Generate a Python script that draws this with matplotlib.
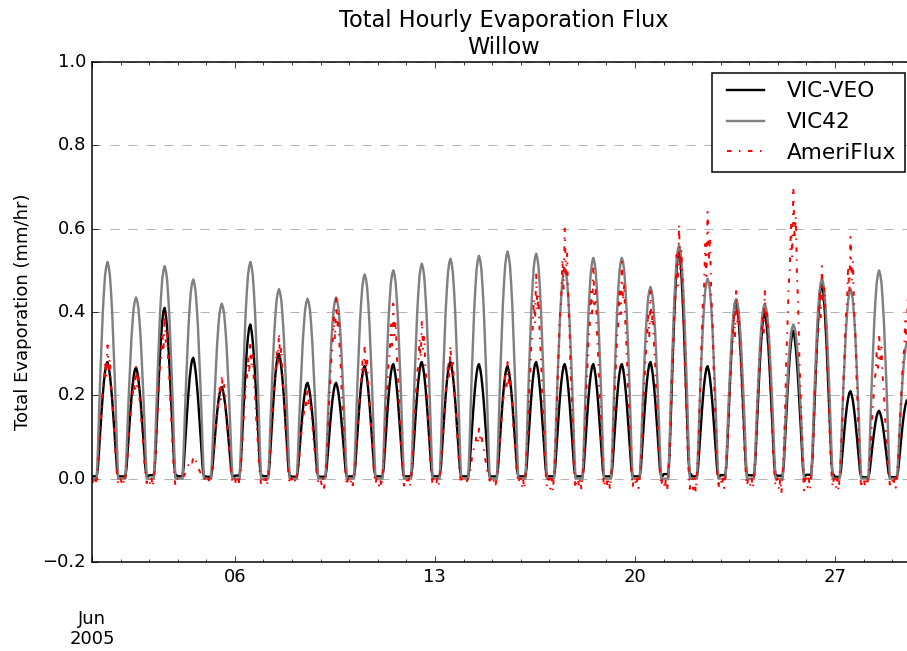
import numpy as np
import pandas as pd
import matplotlib
matplotlib.use('Agg')
import matplotlib.pyplot as plt
import matplotlib.dates as mdates
from matplotlib.ticker import FuncFormatter

# daily peak values, Jun 1 .. Jun 29 2005
veo_peak = [0.28, 0.267, 0.41, 0.29, 0.22, 0.37, 0.30, 0.23, 0.23, 0.27,
            0.275, 0.28, 0.28, 0.275, 0.27, 0.28, 0.275, 0.275, 0.275, 0.28,
            0.55, 0.27, 0.43, 0.40, 0.355, 0.47, 0.21, 0.163, 0.19]
vic42_peak = [0.52, 0.435, 0.51, 0.478, 0.42, 0.52, 0.455, 0.432, 0.435, 0.49,
              0.50, 0.516, 0.528, 0.535, 0.545, 0.54, 0.505, 0.53, 0.53, 0.46,
              0.56, 0.48, 0.43, 0.42, 0.37, 0.48, 0.455, 0.50, 0.33]
flux_peak = [0.32, 0.27, 0.40, 0.05, 0.25, 0.33, 0.35, 0.22, 0.44, 0.32,
             0.42, 0.38, 0.32, 0.12, 0.28, 0.49, 0.60, 0.51, 0.52, 0.45,
             0.61, 0.64, 0.45, 0.45, 0.70, 0.51, 0.58, 0.35, 0.43]

# typical diurnal shape (hour 0..23), relative to the daily peak
vic_shape = [0.0, 0.0, 0.0, 0.0, 0.0, 0.14, 0.32, 0.48, 0.62, 0.76, 0.86, 0.94,
             0.98, 1.0, 0.98, 0.94, 0.86, 0.76, 0.62, 0.48, 0.32, 0.14, 0.0, 0.0]
veo_shape = [0.02, 0.02, 0.02, 0.02, 0.02, 0.10, 0.26, 0.42, 0.57, 0.71, 0.83, 0.92,
             0.98, 1.0, 0.96, 0.89, 0.79, 0.67, 0.53, 0.38, 0.23, 0.08, 0.02, 0.02]
flux_shape = [0.0, -0.04, 0.0, -0.05, 0.02, 0.10, 0.22, 0.40, 0.52, 0.66, 0.72, 0.88,
              0.76, 1.0, 0.82, 0.90, 0.70, 0.60, 0.42, 0.30, 0.14, 0.03, -0.04, 0.0]

times = pd.date_range('2005-06-01 00:00', '2005-06-29 20:00', freq='h')
n = len(times)

def hourly(peaks, shape):
    vals = [p * s for p in peaks for s in shape]
    return np.array(vals[:n])

plt.style.use('classic')
plt.rcParams['figure.facecolor'] = 'white'
plt.rcParams['savefig.facecolor'] = 'white'

fig = plt.figure(figsize=(907 / 108, 651 / 108), dpi=108)
ax = fig.add_axes([92 / 907, 89 / 651, 824 / 907, 500 / 651])

ax.plot(times, hourly(veo_peak, veo_shape), color='k', lw=1.6, label='VIC-VEO')
ax.plot(times, hourly(vic42_peak, vic_shape), color='gray', lw=1.6, label='VIC42')
ax.plot(times, hourly(flux_peak, flux_shape), color='red', lw=1.3, ls='-.', label='AmeriFlux')

ax.set_xlim(times[0], times[-1])
ax.set_ylim(-0.2, 1.0)
ax.set_yticks(np.arange(-0.2, 1.01, 0.2))
ax.yaxis.grid(True, linestyle='--', color='#aaaaaa', lw=0.6)
ax.set_axisbelow(True)

def day_fmt(x, pos):
    d = mdates.num2date(x)
    if d.day == 1:
        return '\n\nJun\n2005'
    return d.strftime('%d')

ax.xaxis.set_major_locator(mdates.DayLocator(bymonthday=[1, 6, 13, 20, 27]))
ax.xaxis.set_major_formatter(FuncFormatter(day_fmt))
ax.xaxis.set_minor_locator(mdates.DayLocator())

ax.set_title('Total Hourly Evaporation Flux\nWillow', fontsize=15, linespacing=1.25, pad=5)
ax.set_ylabel('Total Evaporation (mm/hr)', fontsize=12, labelpad=7)
ax.legend(loc='upper right', fontsize=14.4, handlelength=2.3)

fig.savefig('out.png', dpi=108)
